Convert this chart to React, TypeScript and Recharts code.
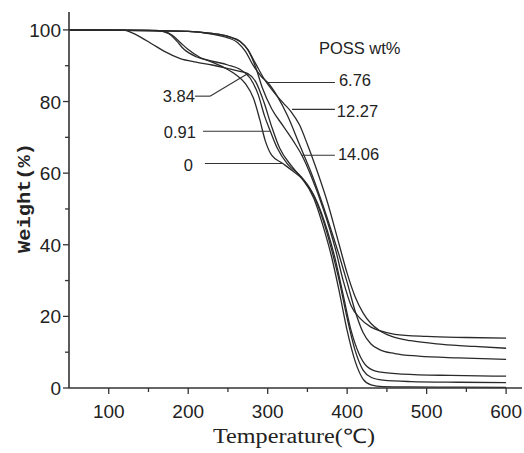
import React from 'react';
import { LineChart, Line, XAxis, YAxis, ReferenceLine, ReferenceDot } from 'recharts';

// ---- data (temperature °C, weight %) ----
const seriesNames = ['0', '0.91', '3.84', '6.76', '12.27', '14.06'];

const temps0 = [50, 150, 170, 180, 190, 200, 215, 230, 245, 260, 272, 282, 290, 297, 305, 319, 332, 345, 358, 370, 380, 390, 400, 410, 420, 430, 445, 480, 540, 600];
const weights0 = [100, 99.9, 99.6, 98.5, 96.5, 94.5, 92.3, 91, 89.5, 87.5, 85, 81, 75, 69, 65, 62.7, 60.5, 58, 53, 45, 37, 27, 16, 7.5, 2.5, 0.9, 0.4, 0.3, 0.25, 0.2];

const temps091 = [50, 160, 175, 185, 195, 210, 230, 250, 265, 278, 288, 296, 303, 312, 325, 340, 355, 368, 380, 390, 400, 410, 420, 430, 445, 480, 540, 600];
const weights091 = [100, 99.8, 99, 97, 94.5, 92.5, 91.3, 90.2, 89, 86.5, 82, 76, 71.9, 67, 62.5, 59.5, 55, 48, 39, 30, 19.5, 10.5, 5, 3, 2.2, 1.8, 1.6, 1.5];

const temps384 = [50, 120, 128, 140, 155, 170, 190, 210, 230, 250, 265, 275, 285, 295, 305, 315, 330, 345, 360, 375, 385, 395, 405, 415, 425, 440, 470, 530, 600];
const weights384 = [100, 99.9, 99.3, 98, 96, 94, 92, 91, 90.2, 89.2, 88.4, 87.8, 85.5, 80, 73, 67, 62, 58, 53, 44, 36, 26, 16, 9.5, 6, 4.5, 3.9, 3.5, 3.3];

const temps676 = [50, 200, 230, 250, 262, 272, 282, 292, 300, 312, 325, 340, 355, 368, 380, 390, 400, 410, 420, 430, 440, 460, 490, 540, 600];
const weights676 = [100, 99.6, 98.8, 97.8, 96.5, 94, 90, 87, 85.3, 81.5, 76, 68, 60, 52, 44, 37, 29.5, 21.5, 15.5, 12.3, 10.8, 9.6, 8.9, 8.4, 8.0];

const temps1227 = [50, 200, 230, 250, 265, 275, 285, 295, 310, 320, 330, 340, 350, 360, 375, 390, 400, 410, 420, 430, 441, 455, 480, 520, 560, 600];
const weights1227 = [100, 99.6, 99, 98.2, 96.8, 94.5, 90.5, 86.5, 82, 79.5, 77, 73.5, 68, 62, 52, 40, 32, 25.5, 21, 18, 16, 14.5, 13.2, 12.2, 11.6, 11.1];

const temps1406 = [50, 200, 230, 250, 265, 275, 285, 293, 305, 320, 335, 343, 355, 370, 385, 395, 405, 416, 430, 441, 460, 500, 550, 600];
const weights1406 = [100, 99.6, 99, 98.2, 96.8, 94.5, 89.5, 84, 78, 73, 68, 65, 59, 50, 39, 30, 23, 19.5, 17, 16, 15, 14.4, 14.1, 13.9];

const xTicks = [100, 150, 200, 250, 300, 350, 400, 450, 500, 550, 600];
const yTicks = [0, 10, 20, 30, 40, 50, 60, 70, 80, 90, 100];

// annotation texts (data coordinates)
const annotTexts = ['POSS wt%', '6.76', '12.27', '14.06', '3.84', '0.91', '0'];
const annotT = [364.5, 389.6, 387, 388.4, 208.5, 209.7, 206];
const annotW = [93.4, 84.2, 75.8, 63.6, 80.0, 69.7, 60.5];
const annotAnchor = ['start', 'start', 'start', 'start', 'end', 'end', 'end'];

// leader line segments [t1, w1, t2, w2]
const leaderSegments = [
  [300.3, 85.3, 384.6, 85.3],
  [330.5, 77.8, 384.6, 77.8],
  [343, 65.0, 384.6, 65.0],
  [208.5, 81.5, 227.4, 81.5],
  [227.4, 81.5, 275.2, 87.8],
  [218.6, 71.7, 302.8, 71.7],
  [221, 62.7, 319, 62.7],
];

const zip = (t: number[], w: number[]) => t.map((x, i) => ({ t: x, w: w[i] }));
const seriesData = [
  zip(temps0, weights0),
  zip(temps091, weights091),
  zip(temps384, weights384),
  zip(temps676, weights676),
  zip(temps1227, weights1227),
  zip(temps1406, weights1406),
];

const TICK_FONT = '"Liberation Sans", Arial, sans-serif';

const XTick = (p: any) => {
  const v = p.payload.value;
  const major = v % 100 === 0;
  return (
    <g>
      <line x1={p.x} x2={p.x} y1={p.y} y2={p.y + (major ? 6 : 4)} stroke="#333" strokeWidth={1.3} />
      {major && (
        <text x={p.x} y={p.y + 30} textAnchor="middle" fontFamily={TICK_FONT} fontSize={19} fill="#222">
          {v}
        </text>
      )}
    </g>
  );
};

const YTick = (p: any) => {
  const v = p.payload.value;
  const major = v % 20 === 0;
  return (
    <g>
      <line x1={p.x - (major ? 6 : 4)} x2={p.x} y1={p.y} y2={p.y} stroke="#333" strokeWidth={1.3} />
      {major && (
        <text x={p.x - 8} y={p.y + 7} textAnchor="end" fontFamily={TICK_FONT} fontSize={19} fill="#222">
          {v}
        </text>
      )}
    </g>
  );
};

const XTitle = () => (
  <text x={294} y={443} textAnchor="middle" fontFamily='"Liberation Serif", serif' fontSize={20} fill="#222" textLength={162} lengthAdjust="spacingAndGlyphs">
    Temperature(℃)
  </text>
);

const YTitle = () => (
  <text transform="translate(30,198) rotate(-90)" textAnchor="middle" fontFamily='"Liberation Mono", monospace' fontWeight="bold" fontSize={19} fill="#222" textLength={110} lengthAdjust="spacingAndGlyphs">
    Weight(%)
  </text>
);

export default function App() {
  return (
    <div style={{ position: 'absolute', left: 0, top: 0, width: 524, height: 453, background: '#fff' }}>
      <LineChart width={524} height={453} margin={{ top: 12, right: 2, bottom: 0, left: 0 }}>
        <XAxis
          xAxisId="main"
          dataKey="t"
          type="number"
          domain={[50, 620]}
          ticks={xTicks}
          interval={0}
          allowDataOverflow
          height={65}
          tickSize={0}
          tickMargin={0}
          tickLine={false}
          tick={<XTick />}
          axisLine={{ stroke: '#333', strokeWidth: 1.6 }}
          label={<XTitle />}
        />
        <XAxis xAxisId="top" orientation="top" type="number" domain={[50, 620]} height={0} tick={false} tickLine={false} axisLine={{ stroke: '#777', strokeWidth: 1 }} />
        <YAxis
          yAxisId="main"
          type="number"
          domain={[0, 105]}
          ticks={yTicks}
          interval={0}
          allowDataOverflow
          width={69}
          tickSize={0}
          tickMargin={0}
          tickLine={false}
          tick={<YTick />}
          axisLine={{ stroke: '#333', strokeWidth: 1.6 }}
          label={<YTitle />}
        />
        <YAxis yAxisId="right" orientation="right" type="number" domain={[0, 105]} width={0} tick={false} tickLine={false} axisLine={{ stroke: '#777', strokeWidth: 1 }} />
        {seriesData.map((d, i) => (
          <Line
            key={seriesNames[i]}
            xAxisId="main"
            yAxisId="main"
            data={d}
            dataKey="w"
            name={seriesNames[i]}
            type="monotone"
            stroke="#2a2a2a"
            strokeWidth={1.3}
            dot={false}
            activeDot={false}
            isAnimationActive={false}
          />
        ))}
        {leaderSegments.map((s, i) => (
          <ReferenceLine
            key={'seg' + i}
            xAxisId="main"
            yAxisId="main"
            segment={[{ x: s[0], y: s[1] }, { x: s[2], y: s[3] }]}
            stroke="#333"
            strokeWidth={1.1}
          />
        ))}
        {annotTexts.map((txt, i) => (
          <ReferenceDot
            key={'txt' + i}
            xAxisId="main"
            yAxisId="main"
            x={annotT[i]}
            y={annotW[i]}
            r={0}
            fill="none"
            stroke="none"
            label={(p: any) => (
              <text x={p.viewBox.x} y={p.viewBox.y} textAnchor={annotAnchor[i] as any} fontFamily={TICK_FONT} fontSize={16.5} fill="#222">
                {txt}
              </text>
            )}
          />
        ))}
      </LineChart>
    </div>
  );
}
